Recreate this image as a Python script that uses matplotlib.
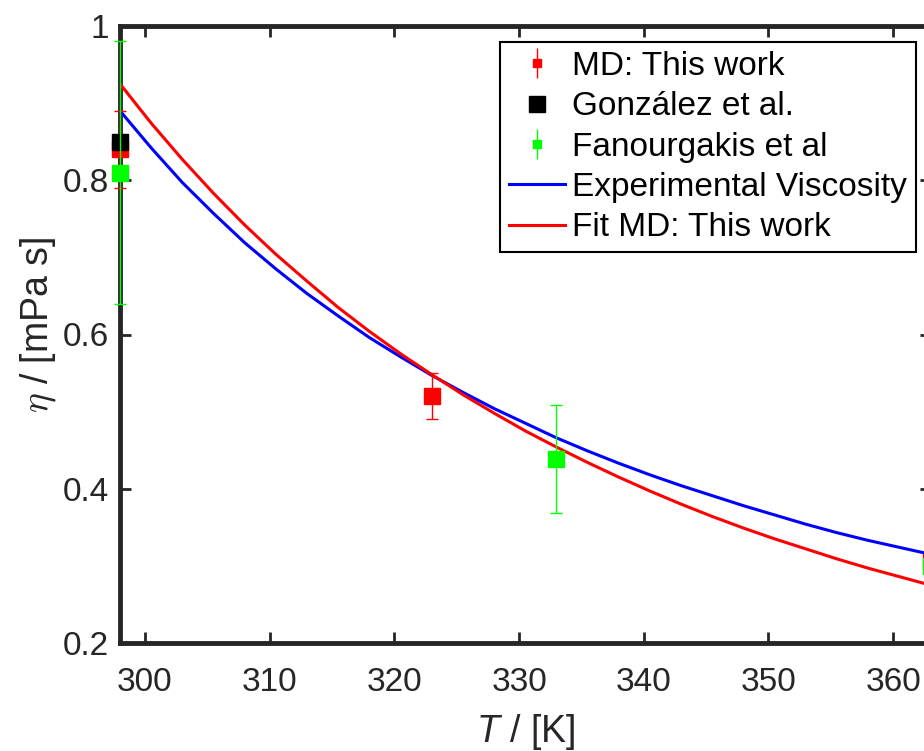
import numpy as np
import matplotlib
matplotlib.use('Agg')
from matplotlib import pyplot as plt
from matplotlib.container import ErrorbarContainer
from matplotlib.legend_handler import HandlerErrorbar

plt.rcParams['font.family'] = ['Liberation Sans', 'DejaVu Sans']
plt.rcParams['mathtext.fontset'] = 'custom'
plt.rcParams['mathtext.it'] = 'Liberation Sans:italic'
plt.rcParams['mathtext.rm'] = 'Liberation Sans'

# MD simulations (this work)
T_md = [298, 323, 363]
eta_md = [0.84, 0.52, 0.305]
err_md = [0.05, 0.03, 0.03]

# Gonzalez et al.
T_gonz = [298]
eta_gonz = [0.85]

# Fanourgakis et al
T_fan = [298, 333, 363]
eta_fan = [0.81, 0.438, 0.30]
err_fan = [0.17, 0.07, 0.05]

# curves
T_curve = [298, 300.5, 303, 305.5, 308, 310.5, 313, 315.5, 318, 320.5, 323, 325.5,
           328, 330.5, 333, 335.5, 338, 340.5, 343, 345.5, 348, 350.5, 353, 355.5,
           358, 360.5, 363]
eta_exp = [0.890, 0.842, 0.797, 0.757, 0.719, 0.685, 0.653, 0.624, 0.596, 0.571,
           0.547, 0.525, 0.504, 0.485, 0.466, 0.449, 0.433, 0.418, 0.404, 0.391,
           0.378, 0.366, 0.354, 0.343, 0.333, 0.324, 0.315]
eta_fit = [0.925, 0.874, 0.827, 0.783, 0.742, 0.704, 0.669, 0.635, 0.604, 0.575,
           0.548, 0.522, 0.498, 0.475, 0.454, 0.434, 0.415, 0.397, 0.380, 0.364,
           0.349, 0.335, 0.322, 0.309, 0.297, 0.286, 0.275]

xticks = [300, 310, 320, 330, 340, 350, 360]
yticks = [0.2, 0.4, 0.6, 0.8, 1.0]
yticklabels = ['0.2', '0.4', '0.6', '0.8', '1']

dark = '#262626'
red = '#ff0000'
green = '#00ff00'
blue = '#0000ff'

fig = plt.figure(figsize=(9.24, 7.51), dpi=100)
# axes runs a bit past the right edge, as in the original crop
ax = fig.add_axes([120/924, 1-643/751, (930.6-120)/924, (643-26)/751])

ax.plot(T_curve, eta_exp, color=blue, lw=2.2, zorder=3)
ax.plot(T_curve, eta_fit, color=red, lw=2.2, zorder=3)

eb_md = ax.errorbar(T_md, eta_md, yerr=err_md, fmt='s', color=red, ms=11,
                    elinewidth=1, capsize=4.2, capthick=1, zorder=4)
ln_gonz, = ax.plot(T_gonz, eta_gonz, 's', color='black', ms=11, zorder=5)
eb_fan = ax.errorbar(T_fan, eta_fan, yerr=err_fan, fmt='s', color=green, ms=11,
                     elinewidth=1, capsize=4.2, capthick=1, zorder=6)
for art in [ln_gonz] + list(eb_md.lines[:1]) + list(eb_md.lines[1]) + list(eb_md.lines[2]) \
        + list(eb_fan.lines[:1]) + list(eb_fan.lines[1]) + list(eb_fan.lines[2]):
    art.set_clip_on(False)

ax.set_xlim(298, 363)
ax.set_ylim(0.2, 1.0)
ax.set_xticks(xticks)
ax.set_yticks(yticks)
ax.set_yticklabels(yticklabels)
ax.tick_params(direction='in', length=8, width=2, colors=dark, labelsize=24,
               top=True, right=True)
ax.tick_params(axis='x', pad=17)
ax.tick_params(axis='y', pad=8)
for sp in ax.spines.values():
    sp.set_linewidth(3.5)
    sp.set_color(dark)

ax.set_xlabel(r'$T$ / [K]', fontsize=27, color=dark, labelpad=10)
ax.set_ylabel(r'$\eta$ / [mPa s]', fontsize=27, color=dark, math_fontfamily='cm')
ax.yaxis.set_label_coords(58/924, 1-325/751, transform=fig.transFigure)

# legend proxies (smaller markers like the original legend)
p_md = ax.errorbar([], [], yerr=[], fmt='s', color=red, ms=6, elinewidth=1,
                   capsize=4.2, capthick=1)
p_gonz, = ax.plot([], [], 's', color='black', ms=11)
p_fan = ax.errorbar([], [], yerr=[], fmt='s', color=green, ms=6, elinewidth=1,
                    capsize=4.2, capthick=1)
p_exp, = ax.plot([], [], color=blue, lw=2.2)
p_fit, = ax.plot([], [], color=red, lw=2.2)

leg = ax.legend([p_md, p_gonz, p_fan, p_exp, p_fit],
                ['MD: This work', 'González et al.', 'Fanourgakis et al',
                 'Experimental Viscosity', 'Fit MD: This work'],
                loc='upper right', bbox_to_anchor=(916/924, 1-42/751),
                bbox_transform=fig.transFigure, borderaxespad=0,
                fontsize=24, fancybox=False, framealpha=1, edgecolor='black',
                handlelength=1.68, handletextpad=0.21, labelspacing=0.28,
                borderpad=0.27,
                handler_map={ErrorbarContainer: HandlerErrorbar(xerr_size=0.45)})
leg.get_frame().set_linewidth(1.5)
leg.set_zorder(10)

fig.savefig('out.png', dpi=100)
